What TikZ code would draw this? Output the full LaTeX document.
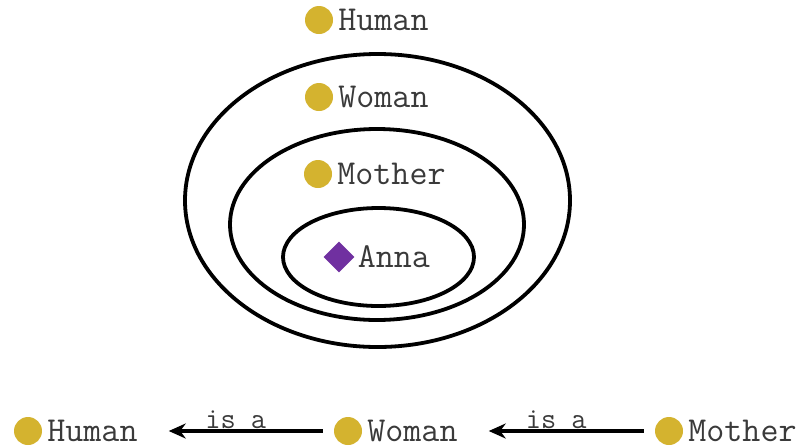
\documentclass[tikz,border=0pt]{standalone}
\usepackage{tikz}
\usetikzlibrary{arrows.meta,positioning,shapes.geometric}
\definecolor{gold}{HTML}{D4B32F}
\definecolor{annapurple}{HTML}{7030A0}
\definecolor{ink}{HTML}{3A3A3A}

\begin{document}
\begin{tikzpicture}[x=1pt, y=-1pt,
    dot/.style={circle, fill=gold, minimum size=28pt, inner sep=0pt},
    gem/.style={diamond, fill=annapurple, minimum size=31pt, inner sep=0pt},
    word/.style={inner sep=0pt, text=ink, font=\ttfamily\fontsize{35}{36}\selectfont},
    isa/.style={-{Stealth[length=17pt, width=15pt]}, line width=3.5pt},
    isalabel/.style={inner sep=1pt, text=ink, font=\ttfamily\fontsize{29.5}{30}\selectfont},
    ring/.style={line width=3.8pt}]
    \useasboundingbox (0,0) rectangle (805,445);

    % 1. ELLIPSES (SETS)
    \foreach \cx/\cy/\rx/\ry in {377.5/200.5/192.5/146.5, 377/224.5/147/95.5, 378.5/257/95.5/49} {
        \draw[ring] (\cx,\cy) ellipse [x radius=\rx pt, y radius=\ry pt];
    }

    % 2. CLASSES AND INDIVIDUAL IN THE SETS
    \node[dot] (human) at (319,20) {};
    \node[word, right=5pt of human] (humantxt) {Human};
    \node[dot] (woman) at (319,97) {};
    \node[word, right=5pt of woman] (womantxt) {Woman};
    \node[dot] (mother) at (318,174) {};
    \node[word, right=5pt of mother] (mothertxt) {Mother};
    \node[gem] (anna) at (339,257) {};
    \node[word, right=3pt of anna] (annatxt) {Anna};

    % 3. CHAIN "IS A" AT THE BOTTOM
    \node[dot] (humanb) at (28,431) {};
    \node[word, right=5pt of humanb] (humanbtxt) {Human};
    \node[dot] (womanb) at (348,431) {};
    \node[word, right=5pt of womanb] (womanbtxt) {Woman};
    \node[dot] (motherb) at (669,431) {};
    \node[word, right=5pt of motherb] (motherbtxt) {Mother};

    \draw[isa, shorten <=11pt, shorten >=31pt] (womanb.west) -- node[above, isalabel] (isa1) {is a} (humanbtxt.east);
    \draw[isa, shorten <=11pt, shorten >=31pt] (motherb.west) -- node[above, isalabel] (isa2) {is a} (womanbtxt.east);

\end{tikzpicture}
\end{document}
